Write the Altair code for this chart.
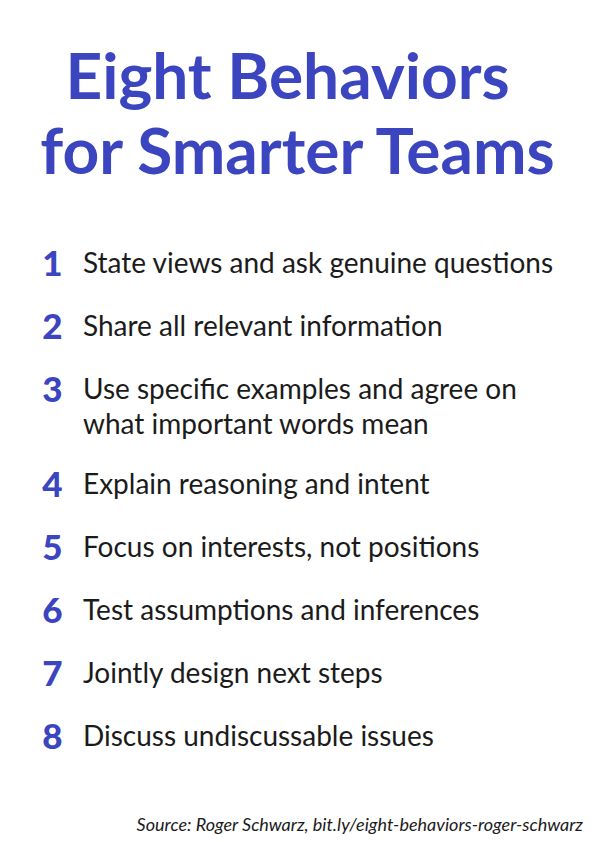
import altair as alt
import pandas as pd

title_lines = ["Eight Behaviors", "for Smarter Teams"]
numbers = ["1", "2", "3", "4", "5", "6", "7", "8"]
behaviors = [
    ["State views and ask genuine questions"],
    ["Share all relevant information"],
    ["Use specific examples and agree on", "what important words mean"],
    ["Explain reasoning and intent"],
    ["Focus on interests, not positions"],
    ["Test assumptions and inferences"],
    ["Jointly design next steps"],
    ["Discuss undiscussable issues"],
]
source = "Source: Roger Schwarz, bit.ly/eight-behaviors-roger-schwarz"

BLUE = "#3c45c0"
INK = "#1b1b1b"
FONT = "Lato"

# slot index: each item is one slot; extra wrapped lines push later items by half a slot
slots = []
extra = 0
for i, lines in enumerate(behaviors):
    slots.append(i + 0.5 * extra)
    extra += len(lines) - 1

df = pd.DataFrame({"num": numbers, "text": behaviors, "slot": slots})

yscale = alt.Scale(domain=[0, 7.5], range=[265, 737.5])
base = alt.Chart(df)

nums = base.mark_text(
    font=FONT, fontSize=35, fontWeight=900, color=BLUE,
    align="center", baseline="alphabetic", dy=3
).encode(
    x=alt.value(44.5),
    y=alt.Y("slot:Q", scale=yscale, axis=None),
    text="num:N",
)

texts = base.mark_text(
    font=FONT, fontSize=28, fontWeight="normal", color=INK,
    align="left", baseline="alphabetic", lineHeight=35
).encode(
    x=alt.value(75),
    y=alt.Y("slot:Q", scale=yscale, axis=None),
    text="text",
)

title_style = dict(font=FONT, fontSize=64, fontWeight="bold", color=BLUE,
                   align="center", baseline="alphabetic")
t1 = alt.Chart(pd.DataFrame({"t": [title_lines[0]]})).mark_text(**title_style).encode(
    x=alt.value(279.5), y=alt.value(91), text="t:N"
)
t2 = alt.Chart(pd.DataFrame({"t": [title_lines[1]]})).mark_text(**title_style).encode(
    x=alt.value(289.5), y=alt.value(166), text="t:N"
)

src_df = pd.DataFrame({"s": [source]})
src = alt.Chart(src_df).mark_text(
    font=FONT, fontSize=18, fontStyle="italic", color=INK,
    align="right", baseline="alphabetic"
).encode(
    x=alt.value(575), y=alt.value(823), text="s:N"
)

chart = alt.layer(t1, t2, nums, texts, src).properties(
    width=579, height=826, padding=0,
    autosize=alt.AutoSizeParams(type="none"),
    background="white",
).configure_view(stroke=None)

chart.save("out.html", embed_options={"renderer": "svg", "actions": False})
